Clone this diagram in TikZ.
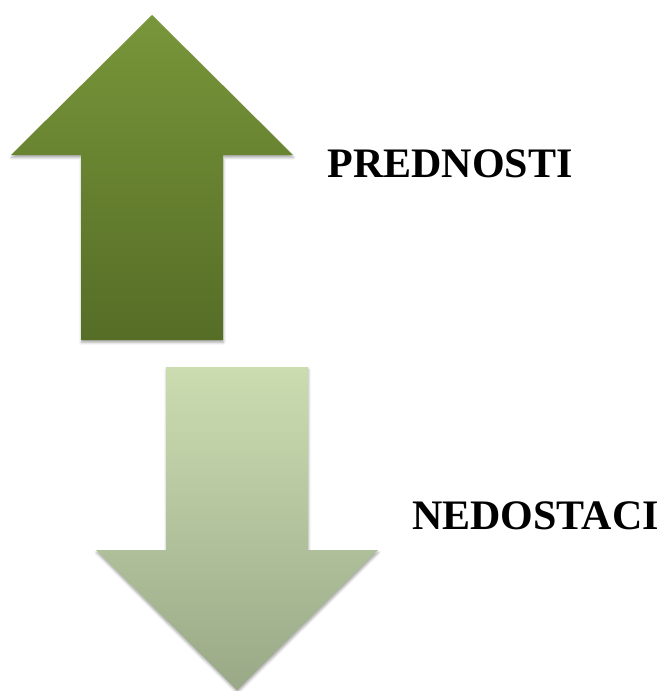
\documentclass[tikz,border=0pt]{standalone}
\usepackage{fontspec}
\setmainfont{Liberation Serif}
\usetikzlibrary{shadows.blur}

\definecolor{upTop}{HTML}{78963A}
\definecolor{upBottom}{HTML}{566D26}
\definecolor{downTop}{HTML}{CCDCB1}
\definecolor{downBottom}{HTML}{99A987}

\tikzset{
  bigarrow/.style={blur shadow={shadow xshift=0.5pt, shadow yshift=-2.5pt, shadow blur radius=2.5pt, shadow opacity=35}},
  label/.style={inner sep=0pt, font=\fontsize{42}{50}\selectfont\bfseries}
}

\begin{document}
\begin{tikzpicture}[x=1pt, y=-1pt]
        \useasboundingbox (0,0) rectangle (664,691);

        % Arrows
        \path [bigarrow, top color=upTop, bottom color=upBottom]
          (152,15) -- (293,155) -- (223,155) -- (223,340) -- (81,340) -- (81,155) -- (11,155) -- cycle;
        \path [bigarrow, top color=downTop, bottom color=downBottom]
          (166,367) -- (308,367) -- (308,550) -- (378,550) -- (237,690) -- (96,550) -- (166,550) -- cycle;

        % Labels
        \node (pros) [label] at (450,163.5) {PREDNOSTI};
        \node (cons) [label] at (535.5,515.5) {NEDOSTACI};

    \end{tikzpicture}
\end{document}
